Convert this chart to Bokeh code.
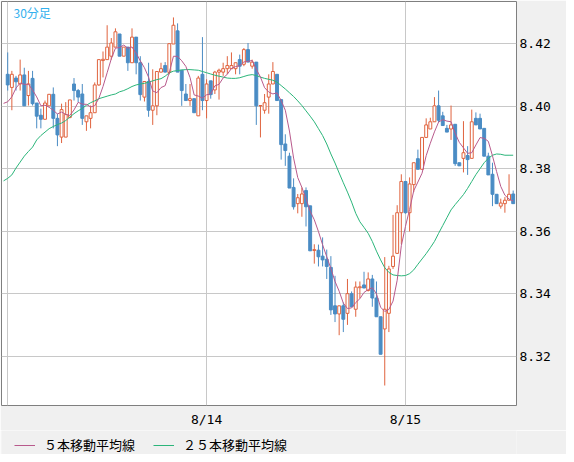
import pandas as pd
from bokeh.plotting import figure
from bokeh.layouts import column
from bokeh.models import (ColumnDataSource, FixedTicker, Range1d, Legend, LegendItem,
                          Label, NumeralTickFormatter)
from bokeh.embed import file_html
from bokeh.resources import INLINE

# ---- data (30-minute bars, index 0 = 8/13 00:00) ----
opens = [8.4102, 8.4060, 8.4090, 8.4071, 8.4100, 8.4034, 8.4089, 8.4010, 8.3971, 8.3958,
         8.4001, 8.4038, 8.3961, 8.3901, 8.3901, 8.3964, 8.4071, 8.4050, 8.4039, 8.3950,
         8.3961, 8.3979, 8.4068, 8.4146, 8.4149, 8.4160, 8.4189, 8.4231, 8.4160, 8.4189,
         8.4139, 8.4221, 8.4139, 8.4029, 8.4079, 8.3987, 8.4001, 8.4109, 8.4130, 8.4108,
         8.4199, 8.4241, 8.4115, 8.4039, 8.4018, 8.4024, 8.3969, 8.4102, 8.4018, 8.4081,
         8.4052, 8.4109, 8.4109, 8.4120, 8.4120, 8.4120, 8.4149, 8.4134, 8.4181, 8.4128,
         8.4141, 8.4001, 8.3987, 8.4029, 8.4071, 8.4102, 8.4021, 8.3879, 8.3840, 8.3740,
         8.3688, 8.3688, 8.3730, 8.3681, 8.3538, 8.3539, 8.3520, 8.3510, 8.3484, 8.3361,
         8.3335, 8.3361, 8.3337, 8.3400, 8.3350, 8.3419, 8.3428, 8.3410, 8.3447, 8.3386,
         8.3326, 8.3287, 8.3337, 8.3487, 8.3529, 8.3659, 8.3759, 8.3659, 8.3749, 8.3832,
         8.3798, 8.3900, 8.3927, 8.3950, 8.4001, 8.3969, 8.3929, 8.3927, 8.3942, 8.3819,
         8.3833, 8.3842, 8.3833, 8.3961, 8.3961, 8.3929, 8.3840, 8.3782, 8.3718, 8.3680,
         8.3688, 8.3699, 8.3719]
highs = [8.4172, 8.4113, 8.4097, 8.4149, 8.4123, 8.4113, 8.4113, 8.4010, 8.3992, 8.4018,
         8.4039, 8.4060, 8.3976, 8.4008, 8.4013, 8.4020, 8.4090, 8.4055, 8.4071, 8.3969,
         8.4002, 8.4076, 8.4149, 8.4175, 8.4259, 8.4218, 8.4249, 8.4231, 8.4189, 8.4189,
         8.4249, 8.4221, 8.4160, 8.4079, 8.4139, 8.4118, 8.4111, 8.4139, 8.4141, 8.4200,
         8.4284, 8.4265, 8.4115, 8.4071, 8.4071, 8.4024, 8.4097, 8.4221, 8.4086, 8.4081,
         8.4113, 8.4120, 8.4139, 8.4160, 8.4172, 8.4139, 8.4165, 8.4186, 8.4202, 8.4149,
         8.4141, 8.4002, 8.4039, 8.4102, 8.4141, 8.4102, 8.4021, 8.3910, 8.3851, 8.3769,
         8.3719, 8.3740, 8.3740, 8.3681, 8.3558, 8.3557, 8.3580, 8.3541, 8.3520, 8.3457,
         8.3361, 8.3372, 8.3447, 8.3407, 8.3439, 8.3439, 8.3470, 8.3468, 8.3460, 8.3439,
         8.3326, 8.3517, 8.3489, 8.3652, 8.3683, 8.3782, 8.3759, 8.3772, 8.3819, 8.3861,
         8.3900, 8.3961, 8.3963, 8.4029, 8.4050, 8.3982, 8.3940, 8.4002, 8.3942, 8.3819,
         8.3952, 8.3872, 8.3989, 8.3980, 8.3976, 8.3929, 8.3851, 8.3819, 8.3718, 8.3704,
         8.3709, 8.3782, 8.3730]
lows = [8.4050, 8.3987, 8.4050, 8.4050, 8.4001, 8.4002, 8.4002, 8.3929, 8.3929, 8.3958,
        8.4001, 8.3929, 8.3872, 8.3882, 8.3901, 8.3961, 8.4018, 8.4013, 8.3940, 8.3921,
        8.3929, 8.3979, 8.4065, 8.4092, 8.4149, 8.4149, 8.4189, 8.4160, 8.4160, 8.4113,
        8.4139, 8.4102, 8.4018, 8.4015, 8.3966, 8.3940, 8.3971, 8.4108, 8.4108, 8.4102,
        8.4199, 8.4109, 8.4001, 8.4018, 8.4001, 8.3979, 8.3969, 8.3987, 8.3961, 8.4024,
        8.4039, 8.4021, 8.4097, 8.4102, 8.4120, 8.4102, 8.4102, 8.4128, 8.4141, 8.4120,
        8.3940, 8.3900, 8.3976, 8.3976, 8.4071, 8.4018, 8.3829, 8.3809, 8.3738, 8.3669,
        8.3657, 8.3646, 8.3615, 8.3537, 8.3496, 8.3487, 8.3487, 8.3447, 8.3332, 8.3309,
        8.3267, 8.3277, 8.3300, 8.3358, 8.3326, 8.3385, 8.3418, 8.3407, 8.3358, 8.3326,
        8.3206, 8.3106, 8.3277, 8.3479, 8.3527, 8.3558, 8.3656, 8.3599, 8.3725, 8.3798,
        8.3798, 8.3898, 8.3927, 8.3950, 8.3948, 8.3938, 8.3917, 8.3892, 8.3809, 8.3809,
        8.3788, 8.3780, 8.3833, 8.3940, 8.3927, 8.3840, 8.3780, 8.3680, 8.3688, 8.3672,
        8.3659, 8.3699, 8.3688]
closes = [8.4068, 8.4102, 8.4078, 8.4100, 8.4001, 8.4071, 8.4008, 8.3968, 8.3958, 8.4010,
          8.4038, 8.3961, 8.3908, 8.3989, 8.3973, 8.4020, 8.4050, 8.4029, 8.3961, 8.3969,
          8.3979, 8.4068, 8.4149, 8.4150, 8.4189, 8.4202, 8.4238, 8.4160, 8.4189, 8.4139,
          8.4221, 8.4139, 8.4037, 8.4079, 8.3987, 8.4001, 8.4111, 8.4120, 8.4109, 8.4200,
          8.4259, 8.4109, 8.4050, 8.4018, 8.4024, 8.3979, 8.4090, 8.4018, 8.4071, 8.4037,
          8.4109, 8.4115, 8.4120, 8.4130, 8.4130, 8.4139, 8.4128, 8.4181, 8.4141, 8.4141,
          8.4001, 8.4002, 8.4011, 8.4071, 8.4111, 8.4018, 8.3877, 8.3858, 8.3738, 8.3678,
          8.3707, 8.3719, 8.3678, 8.3537, 8.3541, 8.3518, 8.3508, 8.3487, 8.3348, 8.3335,
          8.3361, 8.3318, 8.3400, 8.3358, 8.3421, 8.3422, 8.3418, 8.3447, 8.3386, 8.3326,
          8.3206, 8.3350, 8.3479, 8.3520, 8.3659, 8.3759, 8.3659, 8.3751, 8.3819, 8.3798,
          8.3900, 8.3940, 8.3950, 8.4001, 8.3955, 8.3938, 8.3917, 8.3940, 8.3816, 8.3809,
          8.3851, 8.3829, 8.3950, 8.3940, 8.3927, 8.3840, 8.3780, 8.3718, 8.3688, 8.3690,
          8.3699, 8.3718, 8.3688]

# 5-bar MA as drawn for bars -1..3 (needs bars before the visible window)
ma5_head = [8.4009, 8.4014, 8.4030, 8.4058, 8.4074]
# 25-bar MA as drawn, bars -1..122
ma25 = [8.3761, 8.3769, 8.3780, 8.3802, 8.3821, 8.3840, 8.3855, 8.3869, 8.3892, 8.3906,
        8.3917, 8.3928, 8.3935, 8.3941, 8.3946, 8.3954, 8.3965, 8.3976, 8.3985, 8.3993,
        8.4003, 8.4011, 8.4017, 8.4024, 8.4028, 8.4032, 8.4036, 8.4039, 8.4046, 8.4050,
        8.4056, 8.4063, 8.4068, 8.4071, 8.4073, 8.4077, 8.4081, 8.4085, 8.4088, 8.4096,
        8.4107, 8.4112, 8.4114, 8.4116, 8.4117, 8.4117, 8.4116, 8.4115, 8.4111, 8.4107,
        8.4103, 8.4099, 8.4096, 8.4093, 8.4090, 8.4089, 8.4089, 8.4091, 8.4095, 8.4099,
        8.4101, 8.4098, 8.4093, 8.4089, 8.4086, 8.4083, 8.4077, 8.4066, 8.4055, 8.4043,
        8.4031, 8.4017, 8.4002, 8.3985, 8.3968, 8.3950, 8.3928, 8.3906, 8.3879, 8.3847,
        8.3818, 8.3786, 8.3755, 8.3725, 8.3693, 8.3657, 8.3630, 8.3612, 8.3593, 8.3567,
        8.3536, 8.3508, 8.3483, 8.3468, 8.3460, 8.3458, 8.3457, 8.3458, 8.3464, 8.3476,
        8.3494, 8.3511, 8.3528, 8.3547, 8.3567, 8.3593, 8.3618, 8.3643, 8.3668, 8.3685,
        8.3701, 8.3717, 8.3737, 8.3759, 8.3781, 8.3800, 8.3819, 8.3833, 8.3843, 8.3847,
        8.3846, 8.3843, 8.3843, 8.3843]

date_tick_pos = [0, 48, 96]
date_tick_labels = ["", "8/14", "8/15"]
price_ticks = [8.32, 8.34, 8.36, 8.38, 8.40, 8.42]
legend_labels = ["５本移動平均線", "２５本移動平均線"]
chart_label = "30分足"

UP = "#e0633e"
DOWN = "#4a8cc4"
MA5_C = "#b85a8c"
MA25_C = "#2bb57a"
GRID = "#c8c8c8"
PANEL = "#f0f0f0"

n = len(closes)
xs = list(range(n))
df = pd.DataFrame(dict(x=xs, open=opens, high=highs, low=lows, close=closes))
df["top"] = df[["open", "close"]].max(axis=1)
df["bottom"] = df[["open", "close"]].min(axis=1)
df["color"] = [UP if c >= o else DOWN for o, c in zip(opens, closes)]
up = df[df["close"] >= df["open"]]
dn = df[df["close"] < df["open"]]

ma5 = pd.Series(closes).rolling(5).mean().tolist()
ma5_y = [ma5_head[0]] + ma5_head[1:] + ma5[4:]
ma_x = [-1] + xs

W = 566
p = figure(width=W, height=430, output_backend="svg", toolbar_location=None,
           x_range=Range1d(-1.5, 122.8), y_range=Range1d(8.3042, 8.4335),
           y_axis_location="right",
           min_border_left=1, min_border_top=1, min_border_right=50, min_border_bottom=25)
p.background_fill_color = "white"
p.border_fill_color = PANEL
p.outline_line_color = "#7f7f7f"

xa = p.xaxis[0]
xa.ticker = FixedTicker(ticks=date_tick_pos)
xa.major_label_overrides = {k: v for k, v in zip(date_tick_pos, date_tick_labels)}
ya = p.yaxis[0]
ya.ticker = FixedTicker(ticks=price_ticks)
ya.formatter = NumeralTickFormatter(format="0.00")
for ax in (xa, ya):
    ax.axis_line_color = None
    ax.major_tick_line_color = None
    ax.minor_tick_line_color = None
    ax.major_tick_out = 0
    ax.major_tick_in = 0
    ax.major_label_text_font = "DejaVu Sans Mono"
    ax.major_label_text_font_size = "13px"
    ax.major_label_text_color = "#000000"
xa.major_label_standoff = 6
ya.major_label_standoff = 3

p.xgrid.ticker = FixedTicker(ticks=date_tick_pos)
p.ygrid.ticker = FixedTicker(ticks=price_ticks)
for g in (p.xgrid, p.ygrid):
    g.grid_line_color = GRID
    g.grid_line_width = 1

src = ColumnDataSource(df)
p.segment(x0="x", y0="high", x1="x", y1="low", line_color="color", line_width=1, source=src)
p.vbar(x="x", width=0.7, top="top", bottom="bottom", fill_color="white",
       line_color=UP, line_width=1, source=ColumnDataSource(up))
p.vbar(x="x", width=0.7, top="top", bottom="bottom", fill_color=DOWN,
       line_color=DOWN, line_width=1, source=ColumnDataSource(dn))

p.line(ma_x, ma25, line_color=MA25_C, line_width=1)
p.line(ma_x, ma5_y, line_color=MA5_C, line_width=1)

p.add_layout(Label(x=1.4, y=8.4328, text=chart_label, text_color="#33b0ee",
                   text_font="Noto Sans CJK JP", text_font_size="12px",
                   text_baseline="top"))

# ---- legend strip below the chart (legend swatches only; the lines themselves
# sit outside this strip's visible range) ----
lg = figure(width=W, height=24, output_backend="svg", toolbar_location=None,
            x_range=Range1d(0, 1), y_range=Range1d(0, 1),
            x_axis_location=None, y_axis_location=None,
            min_border_left=0, min_border_right=0, min_border_top=0, min_border_bottom=0)
lg.grid.visible = False
lg.outline_line_color = None
lg.background_fill_color = PANEL
lg.border_fill_color = PANEL
k5 = lg.line(ma_x[:2], [5, 5], line_color=MA5_C, line_width=1)
k25 = lg.line(ma_x[:2], [5, 5], line_color=MA25_C, line_width=1)
legend = Legend(items=[LegendItem(label=legend_labels[0], renderers=[k5]),
                       LegendItem(label=legend_labels[1], renderers=[k25])],
                orientation="horizontal", location=(13, 0),
                border_line_color=None, background_fill_alpha=0,
                glyph_width=21, glyph_height=16, label_standoff=9, spacing=18,
                padding=3, margin=0, label_height=16,
                label_text_font="Noto Sans CJK JP", label_text_font_size="13px",
                label_text_color="#000000")
lg.add_layout(legend, "center")

layout = column(p, lg, spacing=0)
open("out.html", "w").write(file_html(layout, INLINE))
